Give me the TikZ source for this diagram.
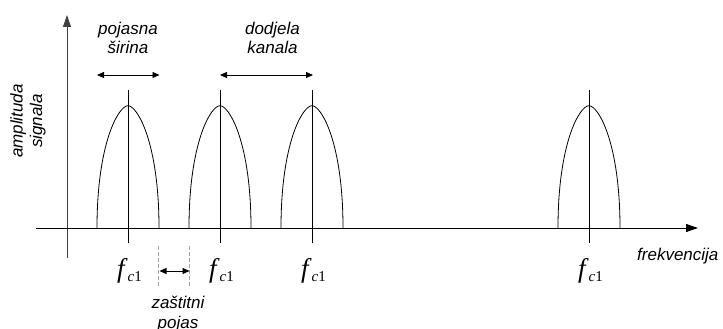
\documentclass[tikz,border=0pt]{standalone}
\usepackage{fontspec}
\setmainfont{Liberation Sans}
\newfontfamily\serifface{Liberation Serif}
\usetikzlibrary{arrows.meta}
\begin{document}
\begin{tikzpicture}[x=1pt,y=-1pt,
  axis/.style={line width=0.9pt,-{Triangle[length=12pt,width=8pt]}},
  dim/.style={line width=0.9pt,{Triangle[length=7pt,width=6pt]}-{Triangle[length=7pt,width=6pt]}},
  bump/.style={line width=0.8pt},
  tick/.style={line width=0.8pt},
  guard/.style={gray!70,line width=0.6pt,dash pattern=on 4pt off 2pt},
  lbl/.style={font=\fontsize{17}{19.5}\selectfont\itshape,align=center,inner sep=0pt},
  freq/.style={font=\fontsize{27}{27}\selectfont\serifface,inner sep=0pt,anchor=base}]
\path[use as bounding box] (0,0) rectangle (723,329);
% axes
\coordinate (yb) at (67,258);
\coordinate (yt) at (67,15);
\coordinate (xl) at (36,228);
\coordinate (xr) at (698,228);
\draw[axis,black!75] (yb) -- (yt);
\draw[axis] (xl) -- (xr);
% bumps
\foreach \c/\n in {128/a,220/b,312/c,589/d}{
  \draw[bump] (\c-31,228) .. controls (\c-31,142.6) and (\c-9.3,105.7) .. (\c,105.7)
     .. controls (\c+9.3,105.7) and (\c+31,142.6) .. (\c+31,228);
  \coordinate (t\n) at (\c,90);
  \coordinate (b\n) at (\c,243);
  \draw[tick] (t\n) -- (b\n);
  \node[freq] (f\n) at (\c+1.5,277) {\textit{f}\raisebox{-4.5pt}{\fontsize{15}{15}\selectfont\textit{c}1}};
}
% guard band
\coordinate (g1t) at (158.5,246);
\coordinate (g1b) at (158.5,288);
\coordinate (g2t) at (189.7,246);
\coordinate (g2b) at (189.7,288);
\draw[guard] (g1t) -- (g1b);
\draw[guard] (g2t) -- (g2b);
\coordinate (ga) at (159.5,271);
\coordinate (gb) at (189.5,271);
\draw[dim] (ga) -- (gb);
\node[lbl] (zp) at (178,314) {zaštitni\\pojas};
% bandwidth
\coordinate (pa) at (97,75);
\coordinate (pb) at (159.5,75);
\draw[dim] (pa) -- (pb);
\node[lbl] (pw) at (128,38) {pojasna\\širina};
% channel allocation
\coordinate (ka) at (220,75);
\coordinate (kb) at (313,75);
\draw[dim] (ka) -- (kb);
\node[lbl] (dk) at (272.5,38) {dodjela\\kanala};
% axis labels
\node[lbl,anchor=base west] (fr) at (637,260) {frekvencija};
\node[lbl,rotate=90] (am) at (28,121) {amplituda\\signala};
\end{tikzpicture}
\end{document}
